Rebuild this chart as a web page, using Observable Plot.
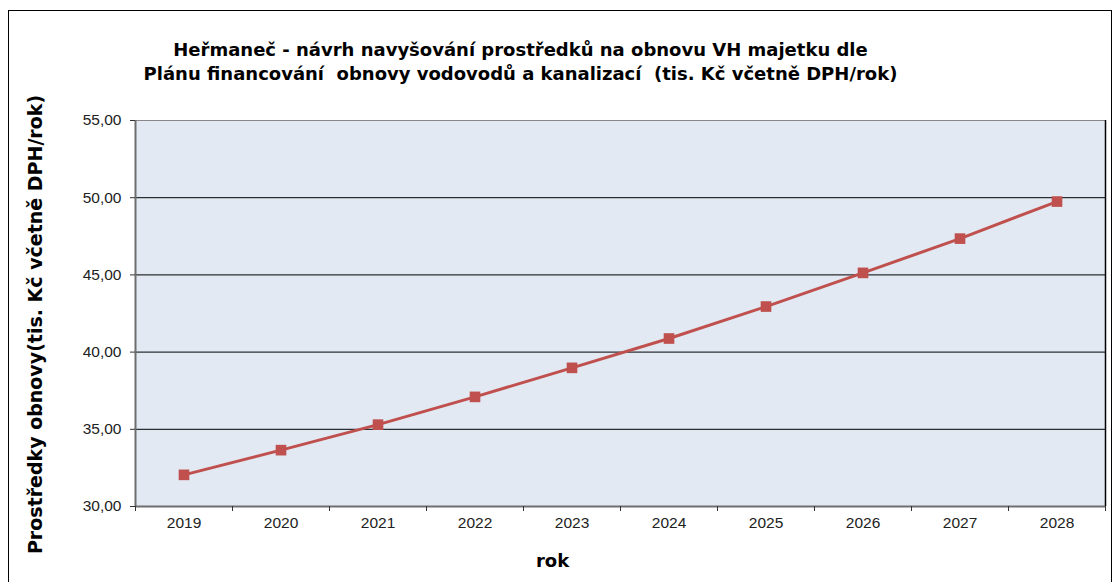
<!DOCTYPE html>
<html>
<head>
<meta charset="utf-8">
<script src="https://cdn.jsdelivr.net/npm/d3@7"></script>
<script src="https://cdn.jsdelivr.net/npm/@observablehq/plot@0.6"></script>
<style>
  html, body { margin: 0; padding: 0; background: #fff; }
  #wrap { position: relative; width: 1120px; height: 582px; overflow: hidden; }
  #border { position: absolute; left: 8px; top: 10px; width: 1104px; height: 600px; border: 1px solid #000; box-sizing: border-box; }
  #chart { position: absolute; left: 0; top: 0; }
</style>
</head>
<body>
<div id="wrap"><div id="border"></div><div id="chart"></div></div>
<script>
const years = [2019, 2020, 2021, 2022, 2023, 2024, 2025, 2026, 2027, 2028];
const values = [32.05, 33.65, 35.3, 37.1, 38.98, 40.88, 42.95, 45.13, 47.35, 49.75];
const yTicks = [30, 35, 40, 45, 50, 55];
const titleLines = [
  "Heřmaneč - návrh navyšování prostředků na obnovu VH majetku dle",
  "Plánu financování  obnovy vodovodů a kanalizací  (tis. Kč včetně DPH/rok)"
];
const yLabel = "Prostředky obnovy(tis. Kč včetně DPH/rok)";
const xLabel = "rok";

const data = years.map((year, i) => ({year, value: values[i]}));
const boundaries = [...years.map(y => y - 0.5), years[years.length - 1] + 0.5];
const fmt = d => d.toFixed(2).replace(".", ",");
const bold = "DejaVu Sans, Verdana, sans-serif";

const chart = Plot.plot({
  width: 1120,
  height: 582,
  marginLeft: 135,
  marginRight: 15,
  marginTop: 120,
  marginBottom: 76,
  x: {type: "linear", domain: [boundaries[0], boundaries[boundaries.length - 1]]},
  y: {domain: [30, 55]},
  style: {fontFamily: "Liberation Sans, Arial, sans-serif", background: "transparent", color: "#222"},
  marks: [
    Plot.frame({fill: "#E2E9F3", stroke: null}),
    Plot.gridY(yTicks.slice(1, -1), {stroke: "#000", strokeOpacity: 1, strokeWidth: 1}),
    Plot.ruleY([55], {stroke: "#888"}),
    Plot.ruleX([boundaries[boundaries.length - 1]], {stroke: "#000", strokeWidth: 1.5}),
    Plot.ruleY([30], {stroke: "#6e6e6e", strokeWidth: 2}),
    Plot.ruleX([boundaries[0]], {stroke: "#6e6e6e", strokeWidth: 2}),
    Plot.axisY(yTicks, {tickSize: 5, tickPadding: 9, tickFormat: fmt, fontSize: 15.5, label: null, stroke: "#333"}),
    Plot.axisX(boundaries, {tickSize: 5, tickFormat: () => "", label: null, stroke: "#333"}),
    Plot.axisX(years, {tickSize: 0, tickPadding: 10, tickFormat: d => String(d), fontSize: 15.5, label: null}),
    Plot.line(data, {x: "year", y: "value", stroke: "#C0504D", strokeWidth: 3}),
    Plot.dot(data, {x: "year", y: "value", symbol: "square", fill: "#C0504D", stroke: null, r: 6}),
    Plot.text([titleLines.join("\n")], {frameAnchor: "top", lineAnchor: "middle", dx: -100, dy: -60, lineHeight: 1.33, fontSize: 18, fontWeight: "bold", fontFamily: bold, fill: "#000"}),
    Plot.text([yLabel], {frameAnchor: "left", rotate: -90, dx: -100, dy: 11, textAnchor: "middle", lineAnchor: "middle", fontSize: 19, fontWeight: "bold", fontFamily: bold, fill: "#000"}),
    Plot.text([xLabel], {frameAnchor: "bottom", lineAnchor: "middle", dx: -68, dy: 55, fontSize: 18, fontWeight: "bold", fontFamily: bold, fill: "#000"})
  ]
});
document.getElementById("chart").appendChild(chart);
</script>
</body>
</html>
